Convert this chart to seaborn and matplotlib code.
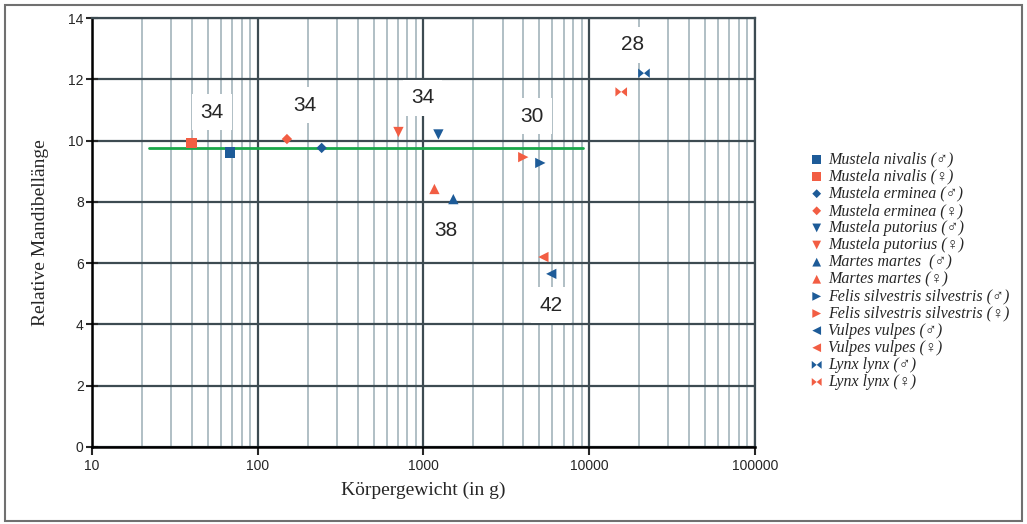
import matplotlib.pyplot as plt
import matplotlib.ticker as mticker
from matplotlib.patches import Rectangle
import pandas as pd
import seaborn as sns

# Daten
arten = ['Mustela nivalis', 'Mustela nivalis', 'Mustela erminea', 'Mustela erminea',
         'Mustela putorius', 'Mustela putorius', 'Martes martes ', 'Martes martes',
         'Felis silvestris silvestris', 'Felis silvestris silvestris',
         'Vulpes vulpes', 'Vulpes vulpes', 'Lynx lynx', 'Lynx lynx']
geschlecht = ['♂', '♀'] * 7
gewicht = [68, 40, 243, 150, 1230, 706, 1514, 1164, 5070, 4000, 5900, 5290, 21400, 15600]
mandibel = [9.6, 9.92, 9.76, 10.05, 10.2, 10.28, 8.09, 8.42, 9.27, 9.46, 5.65, 6.2, 12.2, 11.59]

# Mittelwertlinie
linie_x = [22, 9200]
linie_y = [9.76, 9.76]

# Beschriftungen (Zahlen)
zahl_text = ['34', '34', '34', '30', '38', '42', '28']
zahl_x = [53, 192, 986, 4540, 1358, 5900, 18150]
zahl_y = [10.93, 11.16, 11.39, 10.8, 7.08, 4.63, 13.12]

df = pd.DataFrame({'art': arten, 'sex': geschlecht, 'gewicht': gewicht, 'mandibel': mandibel})
df['label'] = df['art'] + ' (' + df['sex'] + ')'

blau = '#1d5b98'
rot = '#f25d43'
bowtie = [(-1, -0.8), (0, 0), (1, -0.8), (1, 0.8), (0, 0), (-1, 0.8)]
marker_art = ['s', 's', 'D', 'D', 'v', 'v', '^', '^', '>', '>', '<', '<', bowtie, bowtie]
marker_size = [60, 60, 28, 28, 55, 55, 55, 55, 55, 55, 55, 55, 70, 70]

sns.set_style('white')
plt.rcParams['font.family'] = ['Liberation Sans', 'DejaVu Sans']

fig = plt.figure(figsize=(10.27, 5.24), dpi=100)
ax = fig.add_axes([0.0896, 0.147, 0.6455, 0.8186])

# Rahmen um die ganze Abbildung
fig.patches.append(Rectangle((0.005, 0.006), 0.99, 0.985, transform=fig.transFigure,
                             fill=False, edgecolor='#707070', linewidth=1.5))

for i, row in df.iterrows():
    farbe = blau if row['sex'] == '♂' else rot
    sns.scatterplot(x=[row['gewicht']], y=[row['mandibel']], ax=ax, marker=marker_art[i],
                    s=marker_size[i], color=farbe, edgecolor='none', label=row['label'],
                    zorder=5)

sns.lineplot(x=linie_x, y=linie_y, ax=ax, color='#1aa84a', linewidth=2, zorder=4, legend=False)

for t, x, y in zip(zahl_text, zahl_x, zahl_y):
    ax.text(x, y, t, fontsize=15, ha='center', va='center', zorder=3,
            bbox=dict(facecolor='white', edgecolor='none', pad=6))

ax.set_xscale('log')
ax.set_xlim(10, 100000)
ax.set_ylim(0, 14)
ax.set_yticks(range(0, 15, 2))
ax.xaxis.set_major_formatter(mticker.FuncFormatter(lambda v, p: f'{int(v)}'))
ax.xaxis.set_minor_locator(mticker.LogLocator(base=10, subs=range(2, 10), numticks=20))
ax.xaxis.set_minor_formatter(mticker.NullFormatter())

ax.grid(True, which='major', color='#3d4b52', linewidth=1.6, zorder=1)
ax.grid(True, which='minor', axis='x', color='#a3b4bb', linewidth=1.2, zorder=1)
ax.set_axisbelow(True)

for s in ['left', 'bottom']:
    ax.spines[s].set_color('black')
    ax.spines[s].set_linewidth(1.8)
for s in ['top', 'right']:
    ax.spines[s].set_color('#3d4b52')
    ax.spines[s].set_linewidth(1.6)

ax.tick_params(axis='y', which='major', direction='inout', length=8, width=1.5,
               labelsize=10, left=True, pad=2)
ax.tick_params(axis='x', which='major', direction='out', length=6, width=1.5,
               labelsize=10, bottom=True, pad=3)
ax.tick_params(axis='x', which='minor', bottom=False)

ax.set_xlabel('Körpergewicht (in g)', family=['Liberation Serif', 'DejaVu Serif'],
              fontsize=14, labelpad=6)
ax.set_ylabel('Relative Mandibellänge', family=['Liberation Serif', 'DejaVu Serif'],
              fontsize=14, labelpad=14)

leg = ax.legend(loc='center left', bbox_to_anchor=(0.775, 0.483), bbox_transform=fig.transFigure,
                frameon=False, handletextpad=0.3, handlelength=0.8, labelspacing=0.07,
                markerscale=0.85,
                prop={'family': ['Liberation Serif', 'DejaVu Serif'], 'style': 'italic', 'size': 11.5})

fig.savefig('out.png', dpi=100)
